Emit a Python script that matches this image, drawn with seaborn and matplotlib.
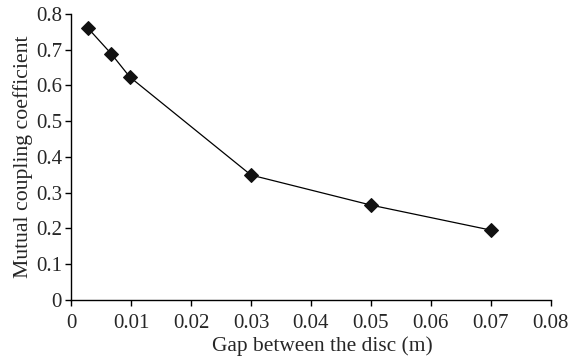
import numpy as np
import pandas as pd
import matplotlib
matplotlib.use('Agg')
import matplotlib.pyplot as plt
import seaborn as sns

# gap (m) vs mutual coupling coefficient
gap = [0.0028, 0.0067, 0.0098, 0.0300, 0.0500, 0.0700]
coupling = [0.760, 0.688, 0.623, 0.349, 0.265, 0.195]
x_ticks = [0, 0.01, 0.02, 0.03, 0.04, 0.05, 0.06, 0.07, 0.08]
x_labels = ['0', '0.01', '0.02', '0.03', '0.04', '0.05', '0.06', '0.07', '0.08']
y_ticks = [0, 0.1, 0.2, 0.3, 0.4, 0.5, 0.6, 0.7, 0.8]
y_labels = ['0', '0.1', '0.2', '0.3', '0.4', '0.5', '0.6', '0.7', '0.8']

df = pd.DataFrame({'gap': gap, 'k': coupling})

sns.set_style('ticks')
plt.rcParams['font.family'] = ['Liberation Serif', 'DejaVu Serif']

fig = plt.figure(figsize=(5.69, 3.63), dpi=100)
ax = fig.add_axes([0.125, 0.174, 0.843, 0.788])

sns.lineplot(data=df, x='gap', y='k', ax=ax, color='black', linewidth=0.9,
             marker='D', markersize=7, markerfacecolor='#111111',
             markeredgecolor='#111111')

ax.set_xlim(0, 0.08)
ax.set_ylim(0, 0.8)
ax.set_xticks(x_ticks)
ax.set_xticklabels(x_labels, fontsize=15)
ax.set_yticks(y_ticks)
ax.set_yticklabels(y_labels, fontsize=15)
ax.tick_params(direction='out', length=4.5, width=1, color='black')
ax.tick_params(axis='x', pad=6)
ax.tick_params(axis='y', pad=2)
for s in ['left', 'bottom']:
    ax.spines[s].set_color('black')
    ax.spines[s].set_linewidth(1)
sns.despine(ax=ax)

ax.set_xlabel('Gap between the disc (m)', fontsize=15.4, labelpad=2, x=0.524)
ax.set_ylabel('Mutual coupling coefficient', fontsize=15.7, labelpad=2)

fig.savefig('out.png', dpi=100)
